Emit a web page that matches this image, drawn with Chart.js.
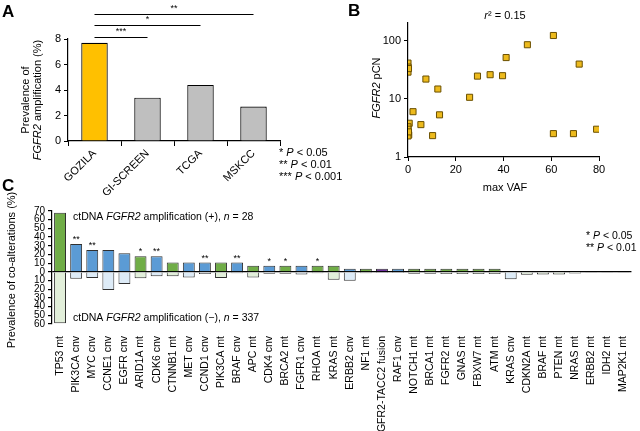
<!DOCTYPE html>
<html lang="en">
<head>
<meta charset="UTF-8">
<title>FGFR2 amplification</title>
<script src="https://cdn.jsdelivr.net/npm/chart.js"></script>
<style>
  body { margin: 0; background: #fff; }
  #wrap { position: relative; width: 640px; height: 431px; overflow: hidden; }
  #wrap canvas { position: absolute; }
</style>
</head>
<body>
<div id="wrap">
  <canvas id="chartA" width="350" height="195" style="left:0;top:0"></canvas>
  <canvas id="chartB" width="300" height="200" style="left:340px;top:0"></canvas>
  <canvas id="chartC" width="640" height="253" style="left:0;top:178px"></canvas>
</div>
<script>
// ---- panel A: prevalence of FGFR2 amplification by cohort
const cohorts = ['GOZILA', 'GI-SCREEN', 'TCGA', 'MSKCC'];
const prevalence = [7.7, 3.4, 4.4, 2.7];
// comparisons vs GOZILA: [target index, stars, bracket height]
const brackets = [[1, '***', 8.13], [2, '*', 9.1], [3, '**', 10.0]];

// ---- panel B: max VAF vs FGFR2 pCN
const maxVaf = [0, 0, 0, 0.2, 7.5, 12.5, 2.1, 13.2, 5.4, 0.5, 0, 0, 0, 0.3,
  0, 10.3, 25.8, 29.1, 34.4, 39.6, 41.1, 50.0, 60.9, 71.7, 60.9, 69.3, 79.0, 0.2];
const pcn = [41, 35, 28.7, 33, 21.8, 14.7, 6.0, 5.3, 3.6, 3.8, 3.3, 3.0, 2.6, 2.4,
  2.3, 2.33, 10.6, 24.5, 25.9, 24.9, 51, 84.7, 122, 39.4, 2.52, 2.52, 3.0, 2.7];

// ---- panel C: co-alterations, amp(+) above / amp(-) below
const alterations = ['TP53 mt', 'PIK3CA cnv', 'MYC cnv', 'CCNE1 cnv', 'EGFR cnv', 'ARID1A mt',
  'CDK6 cnv', 'CTNNB1 mt', 'MET cnv', 'CCND1 cnv', 'PIK3CA mt', 'BRAF cnv', 'APC mt',
  'CDK4 cnv', 'BRCA2 mt', 'FGFR1 cnv', 'RHOA mt', 'KRAS mt', 'ERBB2 cnv', 'NF1 mt',
  'FGFR2-TACC2 fusion', 'RAF1 cnv', 'NOTCH1 mt', 'BRCA1 mt', 'FGFR2 mt', 'GNAS mt',
  'FBXW7 mt', 'ATM mt', 'KRAS cnv', 'CDKN2A mt', 'BRAF mt', 'PTEN mt', 'NRAS mt',
  'ERBB2 mt', 'IDH2 mt', 'MAP2K1 mt'];
const ampPos = [67.9, 32.1, 25.0, 25.0, 21.4, 17.9, 17.9, 10.7, 10.7, 10.7, 10.7, 10.7,
  7.1, 7.1, 7.1, 7.1, 7.1, 7.1, 3.6, 3.6, 3.6, 3.6, 3.6, 3.6, 3.6, 3.6, 3.6, 3.6,
  0, 0, 0, 0, 0, 0, 0, 0];
const ampNeg = [59.1, 8.0, 7.1, 20.8, 13.9, 7.4, 5.0, 5.0, 6.5, 2.4, 7.1, 1.5,
  6.5, 2.1, 2.1, 3.0, 1.5, 9.2, 10.1, 1.5, 0.3, 1.2, 2.1, 2.1, 2.4, 2.4, 2.4, 2.4,
  8.4, 3.4, 3.0, 3.0, 1.8, 0.9, 0.9, 0.9];
const sigC = ['', '**', '**', '', '', '*', '**', '', '', '**', '', '**', '', '*', '*', '', '*'];
const yTicksC = [-60, -50, -40, -30, -20, -10, 0, 10, 20, 30, 40, 50, 60, 70];

const FAM = "'Liberation Sans', Arial, sans-serif";
Chart.defaults.font.family = FAM;
Chart.defaults.color = '#000';
Chart.defaults.animation = false;

// draw a line of text where some parts are italic
function rich(ctx, parts, x, y, size, align) {
  let w = 0;
  parts.forEach(p => { ctx.font = (p[1] ? 'italic ' : '') + size + 'px ' + FAM; w += ctx.measureText(p[0]).width; });
  let cx = align === 'center' ? x - w / 2 : (align === 'right' ? x - w : x);
  ctx.textAlign = 'left';
  ctx.textBaseline = 'middle';
  ctx.fillStyle = '#000';
  parts.forEach(p => {
    ctx.font = (p[1] ? 'italic ' : '') + size + 'px ' + FAM;
    ctx.fillText(p[0], cx, y);
    cx += ctx.measureText(p[0]).width;
  });
}
function richRot(ctx, parts, x, y, size) {
  ctx.save();
  ctx.translate(x, y);
  ctx.rotate(-Math.PI / 2);
  rich(ctx, parts, 0, 0, size, 'center');
  ctx.restore();
}
function letter(ctx, t, x, y) {
  ctx.font = 'bold 17px ' + FAM;
  ctx.fillStyle = '#000';
  ctx.textAlign = 'left';
  ctx.textBaseline = 'middle';
  ctx.fillText(t, x, y);
}

// ---------------- A
const axA = {
  id: 'axA',
  afterDraw(chart) {
    const ctx = chart.ctx, x = chart.scales.x, y = chart.scales.y;
    ctx.save();
    letter(ctx, 'A', 2, 12);
    richRot(ctx, [['Prevalence of', false]], 26, 100, 11);
    richRot(ctx, [['FGFR2', true], [' amplification (%)', false]], 38, 100, 11);
    ctx.strokeStyle = '#000';
    ctx.lineWidth = 1.2;
    brackets.forEach(b => {
      const x0 = x.getPixelForValue(0), x1 = x.getPixelForValue(b[0]);
      const py = Math.round(y.getPixelForValue(b[2])) + 0.5;
      ctx.beginPath(); ctx.moveTo(x0, py); ctx.lineTo(x1, py); ctx.stroke();
      ctx.font = '9px ' + FAM;
      ctx.textAlign = 'center';
      ctx.textBaseline = 'bottom';
      ctx.fillText(b[1], (x0 + x1) / 2, py - 1);
    });
    rich(ctx, [['* ', false], ['P', true], [' < 0.05', false]], 279, 153, 11, 'left');
    rich(ctx, [['** ', false], ['P', true], [' < 0.01', false]], 279, 165, 11, 'left');
    rich(ctx, [['*** ', false], ['P', true], [' < 0.001', false]], 279, 177, 11, 'left');
    ctx.restore();
  }
};
new Chart(document.getElementById('chartA'), {
  type: 'bar',
  data: {
    labels: cohorts,
    datasets: [{
      data: prevalence,
      backgroundColor: ['#FFC000', '#BFBFBF', '#BFBFBF', '#BFBFBF'],
      borderColor: '#000',
      borderWidth: 1.2,
      barPercentage: 0.5,
      categoryPercentage: 1
    }]
  },
  options: {
    responsive: false,
    devicePixelRatio: 1,
    layout: { padding: { left: 0, right: 70, top: 39, bottom: 0 } },
    plugins: { legend: { display: false }, tooltip: { enabled: false } },
    scales: {
      x: {
        grid: { drawOnChartArea: false, color: '#000', tickLength: 5, offset: true },
        border: { color: '#000', width: 1.2 },
        ticks: { minRotation: 45, maxRotation: 45, autoSkip: false, font: { size: 11 }, padding: 1 },
        afterFit: s => { s.height = 54; }
      },
      y: {
        min: 0, max: 8,
        ticks: { stepSize: 1, font: { size: 11 }, padding: 3 },
        grid: { drawOnChartArea: false, color: '#000', tickLength: 4 },
        border: { color: '#000', width: 1.2 },
        afterFit: s => { s.width = 68; }
      }
    }
  },
  plugins: [axA]
});

// ---------------- B
const axB = {
  id: 'axB',
  afterDraw(chart) {
    const ctx = chart.ctx;
    ctx.save();
    letter(ctx, 'B', 8, 11);
    rich(ctx, [['r', true], ['² = 0.15', false]], 165, 16, 11, 'center');
    richRot(ctx, [['FGFR2', true], [' pCN', false]], 37, 88, 11);
    rich(ctx, [['max VAF', false]], 165, 188, 11, 'center');
    ctx.restore();
  }
};
new Chart(document.getElementById('chartB'), {
  type: 'scatter',
  data: {
    datasets: [{
      data: maxVaf.map((v, i) => ({ x: v, y: pcn[i] })),
      pointStyle: 'rect',
      pointRadius: 4.3,
      backgroundColor: '#EDBA1C',
      borderColor: '#6B5000',
      borderWidth: 1
    }]
  },
  options: {
    responsive: false,
    devicePixelRatio: 1,
    layout: { padding: { left: 0, right: 41, top: 23, bottom: 0 } },
    plugins: { legend: { display: false }, tooltip: { enabled: false } },
    scales: {
      x: {
        type: 'linear', min: 0, max: 80,
        ticks: { stepSize: 20, font: { size: 11 }, padding: 2 },
        grid: { drawOnChartArea: false, color: '#000', tickLength: 4 },
        border: { color: '#000', width: 1.2 },
        afterFit: s => { s.height = 43; }
      },
      y: {
        type: 'logarithmic', min: 1, max: 200,
        afterBuildTicks: s => { s.ticks = [1, 10, 100].map(v => ({ value: v })); },
        ticks: { font: { size: 11 }, padding: 3, callback: v => String(v) },
        grid: { drawOnChartArea: false, color: '#000', tickLength: 4 },
        border: { color: '#000', width: 1.2 },
        afterFit: s => { s.width = 68; }
      }
    }
  },
  plugins: [axB]
});

// ---------------- C
function kind(lbl) {
  return lbl.endsWith('cnv') ? 'cnv' : (lbl.endsWith('fusion') ? 'fusion' : 'mt');
}
const darkCol = { mt: '#70AD47', cnv: '#5B9BD5', fusion: '#7030A0' };
const lightCol = { mt: '#E2EFDA', cnv: '#DDEBF7', fusion: '#E4D5F0' };
const axC = {
  id: 'axC',
  afterDraw(chart) {
    const ctx = chart.ctx;
    const meta = chart.getDatasetMeta(0);
    ctx.save();
    letter(ctx, 'C', 2, 8);
    ctx.font = '9px ' + FAM;
    ctx.textAlign = 'center';
    ctx.textBaseline = 'bottom';
    ctx.fillStyle = '#000';
    sigC.forEach((s, i) => {
      if (!s) return;
      const el = meta.data[i];
      ctx.fillText(s, el.x, el.y);
    });
    richRot(ctx, [['Prevalence of co-alterations (%)', false]], 12, 92, 11);
    rich(ctx, [['ctDNA ', false], ['FGFR2', true], [' amplification (+), ', false], ['n', true], [' = 28', false]], 73, 39, 10.5, 'left');
    rich(ctx, [['ctDNA ', false], ['FGFR2', true], [' amplification (\u2212), ', false], ['n', true], [' = 337', false]], 73, 140, 10.5, 'left');
    rich(ctx, [['* ', false], ['P', true], [' < 0.05', false]], 586, 58, 10.5, 'left');
    rich(ctx, [['** ', false], ['P', true], [' < 0.01', false]], 586, 70, 10.5, 'left');
    ctx.restore();
  }
};
new Chart(document.getElementById('chartC'), {
  type: 'bar',
  data: {
    labels: alterations,
    datasets: [{
      data: ampPos,
      backgroundColor: alterations.map(l => darkCol[kind(l)]),
      borderColor: '#303030',
      borderWidth: 1,
      barPercentage: 0.74,
      categoryPercentage: 1
    }, {
      data: ampNeg.map(v => -v),
      backgroundColor: alterations.map(l => lightCol[kind(l)]),
      borderColor: '#303030',
      borderWidth: 1,
      barPercentage: 0.74,
      categoryPercentage: 1
    }]
  },
  options: {
    responsive: false,
    devicePixelRatio: 1,
    layout: { padding: { left: 0, right: 0, top: 33, bottom: 0 } },
    plugins: { legend: { display: false }, tooltip: { enabled: false } },
    scales: {
      x: {
        stacked: true,
        grid: { display: false },
        border: { display: false },
        ticks: { minRotation: 90, maxRotation: 90, autoSkip: false, font: { size: 10.5 }, padding: 4 },
        afterFit: s => { s.height = 107; }
      },
      y: {
        stacked: true,
        min: -60, max: 70,
        afterBuildTicks: s => { s.ticks = yTicksC.map(v => ({ value: v })); },
        ticks: { autoSkip: false, font: { size: 10 }, padding: 3, callback: v => String(Math.abs(v)) },
        grid: {
          color: c => (c.tick && c.tick.value === 0 ? '#000' : 'rgba(0,0,0,0)'),
          tickColor: '#000',
          tickLength: 4,
          lineWidth: 1.2
        },
        border: { color: '#000', width: 1.2 },
        afterFit: s => { s.width = 52; }
      }
    }
  },
  plugins: [axC]
});
</script>
</body>
</html>
